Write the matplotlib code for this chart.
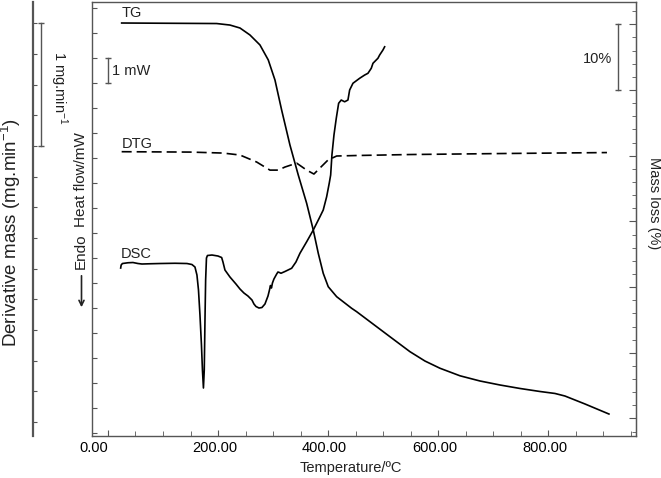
import matplotlib
matplotlib.use("Agg")
import matplotlib.pyplot as plt
from matplotlib import transforms
from matplotlib.patches import FancyArrowPatch
from matplotlib.ticker import MultipleLocator, FixedLocator, FixedFormatter

plt.rcParams.update({
    "font.family": ["Liberation Sans", "DejaVu Sans"],
    "font.size": 10.5,
    "mathtext.fontset": "custom",
    "mathtext.rm": "Liberation Sans",
    "mathtext.it": "Liberation Sans:italic",
    "text.color": "#222222",
})

# ============================================================
# Data
# ============================================================

# DSC heat flow, mW (endo down)
dsc_temp = [23.1, 24.0, 26.3, 36.3, 45.4, 54.5, 61.8, 76.3, 94.5, 121.8,
            143.6, 152.6, 158.1, 161.7, 164.5, 167.2, 169.9, 171.7, 173.5, 175.0,
            176.3, 177.5, 179.0, 180.8, 189.0, 199.9, 206.6, 209.0, 212.6, 221.7,
            232.6, 239.9, 247.1, 254.4, 261.7, 265.3, 269.0, 274.4, 279.8, 285.3,
            290.8, 293.5, 295.3, 297.1, 298.9, 301.6, 306.6, 308.9, 311.6, 314.4,
            321.6, 333.8, 341.6, 348.9, 361.1, 373.1, 385.2, 391.2, 397.4, 402.1,
            404.7, 407.0, 410.7, 414.9, 419.2, 423.9, 430.1, 436.1, 439.2, 445.2,
            457.4, 466.5, 472.5, 478.5, 481.6, 490.6, 493.7, 499.7, 502.8]
dsc_flow = [-0.39, -0.27, -0.21, -0.18, -0.17, -0.21, -0.23, -0.22, -0.21, -0.20,
            -0.21, -0.25, -0.35, -0.67, -1.27, -2.27, -3.47, -4.47, -5.19, -4.47,
            -2.47, -0.87, 0.01, 0.11, 0.13, 0.09, 0.03, -0.15, -0.47, -0.75,
            -1.03, -1.23, -1.39, -1.51, -1.67, -1.83, -1.93, -1.99, -1.97, -1.83,
            -1.51, -1.27, -1.09, -1.19, -0.99, -0.83, -0.63, -0.55, -0.57, -0.60,
            -0.53, -0.40, -0.15, 0.20, 0.66, 1.13, 1.66, 1.93, 2.46, 3.00,
            3.33, 4.13, 4.93, 5.60, 6.20, 6.33, 6.26, 6.33, 6.73, 7.00,
            7.20, 7.33, 7.40, 7.60, 7.80, 8.00, 8.13, 8.33, 8.46]

# TG, residual mass %
tg_temp = [24.9, 197.5, 221.7, 239.9, 258.0, 276.2, 291.3, 303.5, 315.6, 330.7,
           345.8, 361.1, 373.1, 382.2, 391.2, 400.3, 415.6, 442.9, 451.9, 512.4,
           548.8, 576.0, 603.3, 639.7, 676.0, 712.3, 748.7, 785.0, 812.3, 830.5,
           866.8, 910.4]
tg_mass = [100.2, 100.12, 99.89, 99.44, 98.38, 96.86, 94.58, 91.52, 86.96, 81.63,
           77.07, 72.75, 68.69, 65.14, 62.10, 60.06, 58.54, 56.77, 56.26, 52.45,
           50.17, 48.75, 47.65, 46.50, 45.71, 45.10, 44.57, 44.11, 43.81, 43.42,
           42.21, 40.68]

# DTG, mg/min
dtg_temp = [24.9, 149.0, 209.0, 239.9, 270.2, 294.4, 309.5, 321.6, 342.9, 361.1,
            374.3, 385.2, 399.8, 415.6, 451.9, 548.8, 712.3, 906.8]
dtg_rate = [-0.046, -0.049, -0.057, -0.073, -0.130, -0.196, -0.196, -0.171, -0.139, -0.196,
            -0.228, -0.179, -0.114, -0.081, -0.077, -0.069, -0.061, -0.053]

temp_ticks = [0, 200, 400, 600, 800]
temp_labels = ["0.00", "200.00", "400.00", "600.00", "800.00"]

# ============================================================
# Figure
# ============================================================

FRAME = "#555555"
W, H = 661, 478

fig = plt.figure(figsize=(W / 100, H / 100), dpi=100)
ax = fig.add_axes([0.1396, 0.0889, 0.8221, 0.9079])

# DSC on the main axes
ax.plot(dsc_temp, dsc_flow, color="black", lw=1.2)
ax.set_xlim(-28.5, 959)
ax.set_ylim(-7.09, 10.27)

ax.xaxis.set_major_locator(FixedLocator(temp_ticks))
ax.xaxis.set_major_formatter(FixedFormatter(temp_labels))
ax.xaxis.set_minor_locator(MultipleLocator(50))
ax.yaxis.set_major_locator(MultipleLocator(1))
ax.tick_params(axis="x", which="both", direction="in", color=FRAME, pad=4)
ax.tick_params(axis="x", which="major", length=4.5, labelsize=10.5)
ax.tick_params(axis="x", which="minor", length=3.5)
ax.tick_params(axis="y", direction="in", length=3.5, color=FRAME,
               labelleft=False)

# labels sit a little left of their ticks in the original
for i, lab in enumerate(ax.get_xticklabels()):
    dx = -14 if i == 0 else -3.5
    lab.set_transform(lab.get_transform()
                      + transforms.ScaledTranslation(dx / 100, 0, fig.dpi_scale_trans))

for side in ["top", "bottom", "left", "right"]:
    ax.spines[side].set_color(FRAME)
    ax.spines[side].set_linewidth(1.0)

# TG on a right axis
ax_tg = ax.twinx()
ax_tg.plot(tg_temp, tg_mass, color="black", lw=1.2)
ax_tg.set_ylim(37.41, 103.47)
ax_tg.yaxis.set_major_locator(MultipleLocator(10))
ax_tg.yaxis.set_minor_locator(MultipleLocator(2))
ax_tg.tick_params(axis="y", which="both", direction="in", color=FRAME,
                  labelright=False)
ax_tg.tick_params(axis="y", which="major", length=5)
ax_tg.tick_params(axis="y", which="minor", length=3)
for side in ["top", "bottom", "left"]:
    ax_tg.spines[side].set_visible(False)
ax_tg.spines["right"].set_color(FRAME)

# DTG on an offset left axis
ax_dtg = ax.twinx()
ax_dtg.plot(dtg_temp, dtg_rate, color="black", lw=1.2, linestyle=(0, (6, 3)))
ax_dtg.set_ylim(-2.359, 1.178)
ax_dtg.yaxis.set_ticks_position("left")
ax_dtg.spines["left"].set_position(("axes", -0.110))
ax_dtg.spines["left"].set_visible(True)
ax_dtg.spines["left"].set_color(FRAME)
ax_dtg.spines["left"].set_linewidth(1.6)
for side in ["top", "bottom", "right"]:
    ax_dtg.spines[side].set_visible(False)
ax_dtg.yaxis.set_major_locator(MultipleLocator(0.25))
ax_dtg.tick_params(axis="y", direction="in", length=3, color=FRAME,
                   labelleft=False)

# ============================================================
# Scale bars
# ============================================================

bar_kw = dict(color=FRAME, lw=1.0, marker="_", markersize=4,
              markeredgewidth=1.0, clip_on=False)

tr = transforms.blended_transform_factory(fig.transFigure, ax_dtg.transData)
ax_dtg.plot([41.3 / W] * 2, [0, 1], transform=tr, **bar_kw)
fig.text(59 / W, 1 - 87.5 / H, r"1 mg.min$^{-1}$", rotation=-90,
         ha="center", va="center")

tr = transforms.blended_transform_factory(fig.transFigure, ax.transData)
ax.plot([108.3 / W] * 2, [7, 8], transform=tr, **bar_kw)
ax.text(112.5 / W, 7.49, "1 mW", transform=tr, ha="left", va="center")

tr = transforms.blended_transform_factory(fig.transFigure, ax_tg.transData)
ax_tg.plot([618.3 / W] * 2, [90, 100], transform=tr, **bar_kw)
ax_tg.text(612.5 / W, 94.76, "10%", transform=tr, ha="right", va="center")

# ============================================================
# Curve names and axis titles
# ============================================================

ax.text(25.4, 9.81, "TG", ha="left", va="center")
ax.text(25.4, 4.57, "DTG", ha="left", va="center")
ax.text(23.4, 0.19, "DSC", ha="left", va="center")

fig.text(351 / W, 1 - 468 / H, "Temperature/ºC", ha="center", va="center")
fig.text(11 / W, 1 - 232 / H, r"Derivative mass (mg.min$^{-1}$)",
         fontsize=13.5, rotation=90, ha="center", va="center")
fig.text(81 / W, 1 - 180 / H, "Heat flow/mW", fontsize=11,
         rotation=90, ha="center", va="center")
fig.text(81 / W, 1 - 251 / H, "Endo", fontsize=11,
         rotation=90, ha="center", va="center")
fig.add_artist(FancyArrowPatch((81.5 / W, 1 - 273 / H), (81.5 / W, 1 - 310 / H),
                               transform=fig.transFigure, arrowstyle="->",
                               mutation_scale=9, lw=1.2, color="#222222"))
fig.text(654 / W, 1 - 203 / H, "Mass loss (%)",
         rotation=270, ha="center", va="center")

fig.savefig("out.png", dpi=100)
